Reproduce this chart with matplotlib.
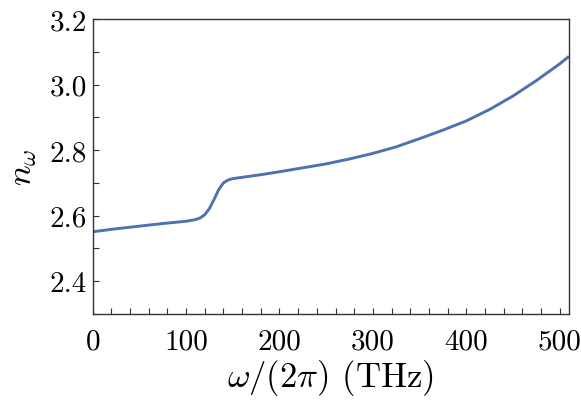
import matplotlib
matplotlib.use("Agg")
import matplotlib.pyplot as plt
from matplotlib.ticker import MultipleLocator

plt.rcParams['font.family'] = 'serif'
plt.rcParams['font.serif'] = ['cmr10']
plt.rcParams['mathtext.fontset'] = 'cm'
plt.rcParams['axes.formatter.use_mathtext'] = True
plt.rcParams['axes.unicode_minus'] = False

freq = [0, 25, 50, 75, 100, 110, 115, 120, 125, 130, 135, 140, 145, 150,
        160, 180, 200, 225, 250, 275, 300, 325, 350, 375, 400, 425, 450,
        475, 500, 510]
n_omega = [2.551, 2.560, 2.568, 2.576, 2.583, 2.588, 2.593, 2.603, 2.622,
           2.650, 2.680, 2.700, 2.709, 2.713, 2.717, 2.725, 2.734, 2.746,
           2.758, 2.773, 2.790, 2.810, 2.835, 2.861, 2.889, 2.924, 2.965,
           3.012, 3.063, 3.086]
xticks = [0, 100, 200, 300, 400, 500]
yticks = [2.4, 2.6, 2.8, 3.0, 3.2]

fig = plt.figure(figsize=(5.81, 4.14), dpi=100)
ax = fig.add_axes([0.1596, 0.2391, 0.9793 - 0.1596, 0.9517 - 0.2391])
ax.plot(freq, n_omega, color='#4c72b0', lw=2.1, solid_capstyle='butt')
ax.set_xlim(0, 510)
ax.set_ylim(2.3, 3.2)
ax.set_xticks(xticks)
ax.set_yticks(yticks)
ax.set_xticklabels([str(v) for v in xticks])
ax.set_yticklabels(['%.1f' % v for v in yticks])
ax.xaxis.set_minor_locator(MultipleLocator(20))
ax.yaxis.set_minor_locator(MultipleLocator(0.1))
spc = '#333333'
for s in ax.spines.values():
    s.set_color(spc)
    s.set_linewidth(1.0)
ax.tick_params(which='both', direction='in', color=spc, width=0.8,
               labelsize=21, top=False, right=False)
ax.tick_params(which='major', length=4.5)
ax.tick_params(which='minor', length=4.0)
ax.tick_params(axis='x', which='major', pad=10)
ax.tick_params(axis='y', which='major', pad=4)
ax.set_xlabel(r'$\omega/(2\pi)$ (THz)', fontsize=25, labelpad=2)
ax.set_ylabel(r'$n_\omega$', fontsize=25, labelpad=8)
fig.savefig('out.png', dpi=100)
